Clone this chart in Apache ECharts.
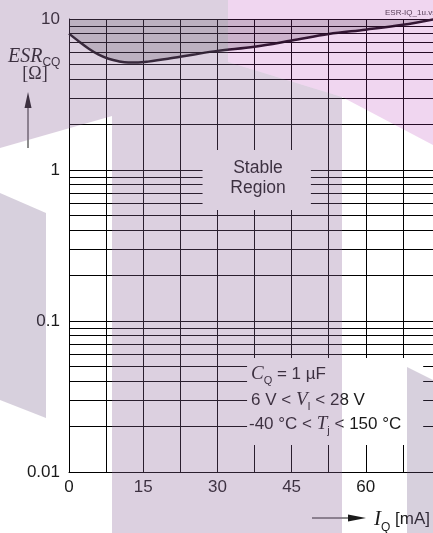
<!DOCTYPE html>
<html lang="en">
<head>
    <meta charset="UTF-8">
    <title>ESR vs IQ</title>
    <script src="https://cdn.jsdelivr.net/npm/echarts@6/dist/echarts.min.js"></script>
    <style>
        html, body { margin: 0; padding: 0; background: #fff; }
        #chart { width: 433px; height: 533px; }
    </style>
</head>
<body>
<div id="chart"></div>

<script type="text/javascript">
    // upper ESR limit of the output capacitor vs. load current
    var iqMA   = [0, 2, 4, 6, 8, 10, 12, 14, 16, 20, 25, 30, 37.5, 45, 52.5, 60, 67.5, 74];
    var esrMax = [8.0, 7.1, 6.35, 5.8, 5.45, 5.25, 5.15, 5.15, 5.22, 5.45, 5.8, 6.15, 6.55, 7.2, 7.95, 8.5, 9.15, 10];

    // axis ticks / labels
    var xLabels = [0, 15, 30, 45, 60];
    var yLabels = [0.01, 0.1, 1, 10];
    var yMinor  = [0.02, 0.03, 0.04, 0.05, 0.06, 0.07, 0.08, 0.09,
                   0.2, 0.3, 0.4, 0.5, 0.6, 0.7, 0.8, 0.9,
                   2, 3, 4, 5, 6, 7, 8, 9];

    // where the grid is left open for the notes (data units)
    var gapStable = { x: [27, 48.9], y: [0.543, 1.357] };
    var gapNotes  = { x: [36, 71.6], y: [0.0151, 0.0569] };

    var sans = 'Liberation Sans';
    var serif = 'Liberation Serif';
    var ink = '#1a1a1a';

    var chart = echarts.init(document.getElementById('chart'), null, { renderer: 'canvas' });

    var option = {
        animation: false,
        backgroundColor: '#fff',
        grid: { left: 69, right: -7, top: 19, bottom: 61, outerBoundsMode: 'none' },
        xAxis: {
            type: 'value',
            min: 0,
            max: 75,
            interval: 7.5,
            axisLine: { show: true, lineStyle: { color: '#000', width: 1 } },
            axisTick: { show: false },
            splitLine: { show: true, lineStyle: { color: '#000', width: 1 } },
            axisLabel: {
                margin: 7,
                color: ink,
                fontFamily: sans,
                fontSize: 17,
                formatter: function (v) {
                    return xLabels.indexOf(Math.round(v * 10) / 10) >= 0 ? String(v) : '';
                }
            }
        },
        yAxis: {
            type: 'log',
            logBase: 10,
            min: 0.01,
            max: 10,
            axisLine: { show: true, lineStyle: { color: '#000', width: 1 } },
            axisTick: { show: false },
            splitLine: { show: true, lineStyle: { color: '#000', width: 1 } },
            axisLabel: {
                margin: 9,
                color: ink,
                fontFamily: sans,
                fontSize: 17,
                formatter: function (v) {
                    for (var i = 0; i < yLabels.length; i++) {
                        if (Math.abs(Math.log10(v / yLabels[i])) < 0.01) return String(yLabels[i]);
                    }
                    return '';
                }
            }
        },
        series: [
            {
                type: 'line',
                data: iqMA.map(function (x, i) { return [x, esrMax[i]]; }),
                symbol: 'none',
                smooth: 0.35,
                lineStyle: { color: '#151015', width: 2.5 },
                areaStyle: { origin: 'end', color: 'rgba(0,0,0,0.25)' },
                markLine: {
                    silent: true,
                    symbol: ['none', 'none'],
                    label: { show: false },
                    lineStyle: { type: 'solid', color: '#000', width: 1 },
                    data: yMinor.map(function (v) { return { yAxis: v }; })
                },
                z: 3
            }
        ]
    };
    chart.setOption(option);

    // open boxes in the grid (pixel rect from data units)
    function gapRect(g) {
        var p1 = chart.convertToPixel({ gridIndex: 0 }, [g.x[0], g.y[1]]);
        var p2 = chart.convertToPixel({ gridIndex: 0 }, [g.x[1], g.y[0]]);
        return {
            type: 'rect', z: 50, silent: true,
            shape: { x: p1[0], y: p1[1], width: p2[0] - p1[0], height: p2[1] - p1[1] },
            style: { fill: '#fff' }
        };
    }

    var richBase = {
        n: { fontFamily: sans, fontSize: 17, fill: ink, lineHeight: 24 },
        i: { fontFamily: serif, fontStyle: 'italic', fontSize: 19, fill: ink, lineHeight: 24 },
        e: { fontFamily: serif, fontStyle: 'italic', fontSize: 20, fill: ink, lineHeight: 24 },
        I: { fontFamily: serif, fontStyle: 'italic', fontSize: 21, fill: ink, lineHeight: 24 },
        s: { fontFamily: sans, fontSize: 11, fill: ink, lineHeight: 24, verticalAlign: 'bottom' },
        q: { fontFamily: sans, fontSize: 12, fill: ink, lineHeight: 24, verticalAlign: 'bottom', padding: [0, 0, 0, 0] },
        d: { fontFamily: sans, fontSize: 12, fill: ink, lineHeight: 30, verticalAlign: 'bottom' }
    };

    function note(str, x, y) {
        return {
            type: 'text', z: 60, silent: true,
            style: { text: str, x: x, y: y, rich: richBase, verticalAlign: 'middle', align: 'left' }
        };
    }

    // background watermark shapes (drawn on top, translucent)
    var wmLilac = 'rgba(138,98,152,0.3)';
    var wmPink = 'rgba(180,50,180,0.2)';
    var wmGrey = 'rgba(112,85,132,0.28)';
    var watermark = [
        { pts: [[0, 0], [228, 0], [228, 62], [342, 97], [342, 533], [112, 533], [112, 116], [0, 148]], fill: wmLilac },
        { pts: [[228, 0], [433, 0], [433, 145], [342, 97], [228, 62]], fill: wmPink },
        { pts: [[0, 193], [46, 213], [46, 418], [0, 400]], fill: wmGrey },
        { pts: [[407, 367], [433, 380], [433, 533], [407, 533]], fill: wmGrey }
    ];

    var graphics = [
        gapRect(gapStable),
        gapRect(gapNotes),
        {
            type: 'text', z: 60, silent: true,
            style: {
                text: 'Stable\nRegion', x: 258, y: 178, align: 'center', verticalAlign: 'middle',
                fontFamily: sans, fontSize: 17.5, lineHeight: 20, fill: ink
            }
        },
        note('{i|C}{s|Q}{n| = 1 µF}', 251, 374),
        note('{n|6 V < }{i|V}{s|I}{n| < 28 V}', 251, 400),
        note('{n|-40 °C < }{i|T}{s|j}{n| < 150 °C}', 249, 424),
        // y axis title + arrow
        note('{e|ESR}{q|CQ}', 8, 57),
        {
            type: 'text', z: 60, silent: true,
            style: { text: '[Ω]', x: 35, y: 74, align: 'center', verticalAlign: 'middle', fontFamily: serif, fontSize: 18, fill: ink }
        },
        { type: 'line', z: 60, silent: true, shape: { x1: 28, y1: 106, x2: 28, y2: 148 }, style: { stroke: ink, lineWidth: 1 } },
        { type: 'polygon', z: 60, silent: true, shape: { points: [[24.5, 108], [28, 92], [31.5, 108]] }, style: { fill: ink } },
        // x axis title + arrow
        { type: 'line', z: 60, silent: true, shape: { x1: 312, y1: 518, x2: 350, y2: 518 }, style: { stroke: ink, lineWidth: 1 } },
        { type: 'polygon', z: 60, silent: true, shape: { points: [[348, 514.5], [366, 518], [348, 521.5]] }, style: { fill: ink } },
        note('{I|I}{d|Q}{n| [mA]}', 374, 519),
        // file tag
        {
            type: 'text', z: 60, silent: true,
            style: { text: 'ESR-IQ_1u.vsd', x: 385, y: 13, verticalAlign: 'middle', fontFamily: sans, fontSize: 8, fill: '#444' }
        }
    ];

    watermark.forEach(function (w) {
        graphics.push({ type: 'polygon', z: 100, silent: true, shape: { points: w.pts }, style: { fill: w.fill } });
    });

    chart.setOption({ graphic: graphics });
</script>
</body>
</html>
